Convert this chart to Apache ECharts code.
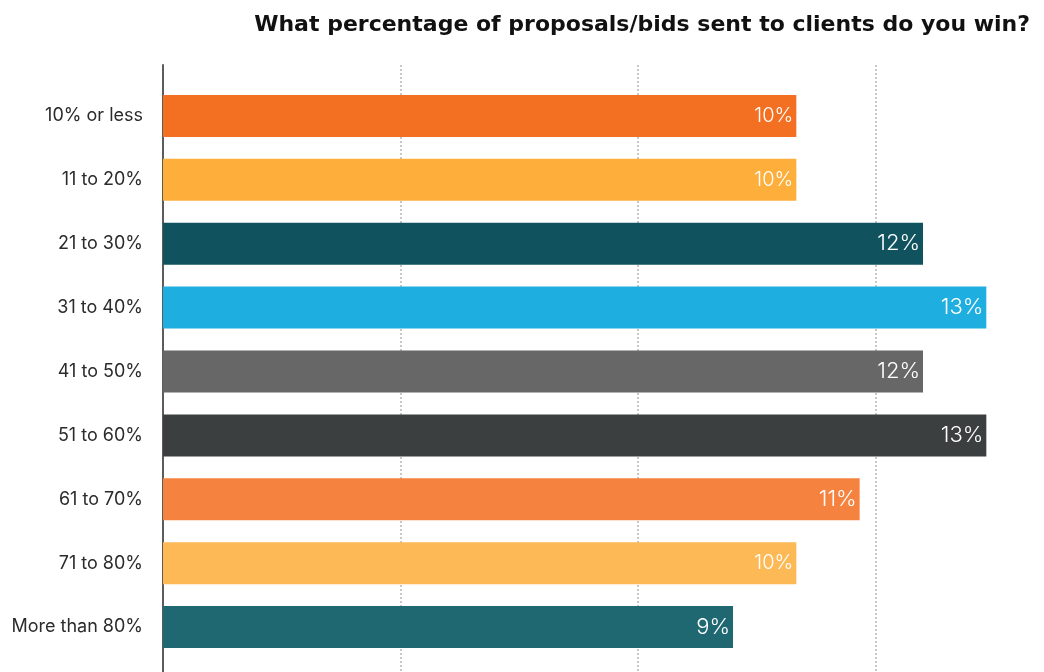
<!DOCTYPE html>
<html>
<head>
<meta charset="utf-8">
<style>
  html, body { margin: 0; padding: 0; background: #ffffff; }
  #chart { width: 1044px; height: 672px; }
</style>
<script src="https://cdn.jsdelivr.net/npm/echarts@6/dist/echarts.min.js"></script>
</head>
<body>
<div id="chart"></div>
<script>
// Survey answers: share of proposals/bids won
const categories = ['10% or less', '11 to 20%', '21 to 30%', '31 to 40%', '41 to 50%',
                    '51 to 60%', '61 to 70%', '71 to 80%', 'More than 80%'];
const shares = [10, 10, 12, 13, 12, 13, 11, 10, 9];
const barColors = ['#F36F21', '#FDAE3B', '#10535E', '#1FAEE0', '#676767',
                   '#3B3F40', '#F5823F', '#FDB955', '#1F6872'];

const FONT = 'Inter, "Open Sans", sans-serif';
const TITLE_FONT = '"DejaVu Sans", Inter, sans-serif';
const AXIS_MAX = 15;
const STEP = 3.75;
const PLOT_LEFT = 163;
const PLOT_WIDTH = 950;   // the 0–15% scale runs on past the right edge of the page

const chart = echarts.init(document.getElementById('chart'), null, { renderer: 'canvas' });

chart.setOption({
  animation: false,
  backgroundColor: '#ffffff',
  title: {
    text: 'What percentage of proposals/bids sent to clients do you win?',
    right: 9,
    top: 9,
    textStyle: { fontFamily: TITLE_FONT, fontWeight: 'bold', fontSize: 22, color: '#111111' }
  },
  grid: [
    // frame grid: vertical axis line and dotted guides, running past the bottom edge
    { left: PLOT_LEFT, width: PLOT_WIDTH, top: 65, height: 640, outerBoundsMode: 'none', containLabel: false },
    // bar grid
    { left: PLOT_LEFT, width: PLOT_WIDTH, top: 84, height: 575, outerBoundsMode: 'none', containLabel: false }
  ],
  xAxis: [
    {
      gridIndex: 0, type: 'value', min: 0, max: AXIS_MAX, interval: STEP,
      axisLine: { show: false }, axisTick: { show: false }, axisLabel: { show: false },
      splitLine: { show: true, lineStyle: { color: '#b5b5b5', width: 1.5, type: [2, 2] } }
    },
    {
      gridIndex: 1, type: 'value', min: 0, max: AXIS_MAX, interval: STEP, show: false,
      splitLine: { show: false }
    }
  ],
  yAxis: [
    {
      gridIndex: 0, type: 'category', data: [''],
      axisLine: { show: true, lineStyle: { color: '#5c5c5c', width: 2 } },
      axisTick: { show: false }, axisLabel: { show: false }, splitLine: { show: false }
    },
    {
      gridIndex: 1, type: 'category', data: categories, inverse: true,
      axisLine: { show: false }, axisTick: { show: false },
      axisLabel: { margin: 20, fontFamily: FONT, fontSize: 18, color: '#2b2b2b' }
    }
  ],
  series: [
    {
      type: 'bar',
      xAxisIndex: 1, yAxisIndex: 1,
      barWidth: 42,
      data: shares.map((v, i) => ({
        value: v,
        itemStyle: { color: barColors[i] },
        label: { fontSize: v === 10 ? 20 : 22 }
      })),
      label: {
        show: true, position: 'insideRight', distance: 3,
        color: '#ffffff', fontFamily: FONT, fontWeight: 300,
        formatter: p => p.value + '%'
      }
    }
  ]
});
</script>
</body>
</html>
